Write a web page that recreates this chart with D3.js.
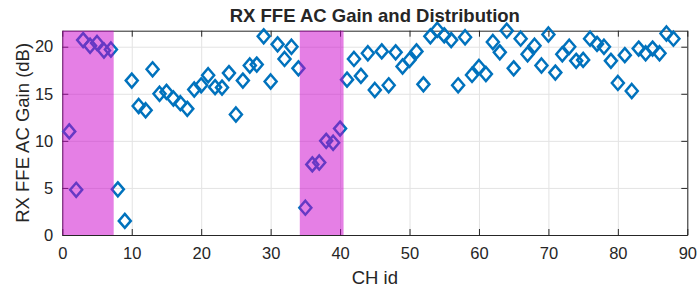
<!DOCTYPE html>
<html>
<head>
<meta charset="utf-8">
<script src="https://cdn.jsdelivr.net/npm/d3@7"></script>
<style>
  body { margin: 0; background: #fff; }
  text { font-family: "Liberation Sans", Arial, sans-serif; fill: #262626; }
</style>
</head>
<body>
<div id="chart"></div>
<script>
const chIds = [
  1, 2, 3, 4, 5, 6, 7, 8, 9, 10, 11, 12, 13, 14, 15, 16, 17, 18, 19, 20, 21, 22,
  23, 24, 25, 26, 27, 28, 29, 30, 31, 32, 33, 34, 35, 36, 37, 38, 39, 40, 41, 42,
  43, 44, 45, 46, 47, 48, 49, 50, 51, 52, 53, 54, 55, 56, 57, 58, 59, 60, 61, 62,
  63, 64, 65, 66, 67, 68, 69, 70, 71, 72, 73, 74, 75, 76, 77, 78, 79, 80, 81, 82,
  83, 84, 85, 86, 87, 88
];
const acGain = [
  11.0, 4.8, 20.7, 20.1, 20.4, 19.6, 19.7, 4.85, 1.5, 16.4, 13.7, 13.25, 17.6, 15.0,
  15.2, 14.5, 14.0, 13.4, 15.45, 15.9, 16.97, 15.7, 15.66, 17.2, 12.8, 16.4, 18.0, 18.1,
  21.1, 16.3, 20.25, 18.7, 20.0, 17.7, 2.9, 7.5, 7.7, 10.0, 9.8, 11.3, 16.5, 18.7,
  16.9, 19.3, 15.4, 19.5, 15.9, 19.4, 17.9, 18.6, 19.5, 16.0, 21.1, 21.8, 21.2, 20.7,
  15.9, 21.0, 17.0, 17.85, 17.1, 20.5, 19.4, 21.7, 17.7, 20.85, 19.2, 20.1, 18.0, 21.3,
  17.25, 19.2, 20.0, 18.5, 18.6, 20.85, 20.3, 20.0, 18.5, 16.15, 19.1, 15.3, 19.8, 19.3,
  19.8, 19.3, 21.4, 20.85
];
// highlighted CH ranges [start, end]
const bands = [[0, 7.4], [34.2, 40.5]];
const xTicks = [0, 10, 20, 30, 40, 50, 60, 70, 80, 90];
const yTicks = [0, 5, 10, 15, 20];

const width = 697, height = 291;
const margin = { top: 30.7, right: 9.7, bottom: 56, left: 62.3 };
const w = width - margin.left - margin.right;
const h = height - margin.top - margin.bottom;

const svg = d3.select("#chart").append("svg")
  .attr("width", width)
  .attr("height", height);

const g = svg.append("g")
  .attr("transform", `translate(${margin.left},${margin.top})`);

const x = d3.scaleLinear().domain([0, 90]).range([0, w]);
const y = d3.scaleLinear().domain([0, 21.7]).range([h, 0]);

// grid
g.append("g")
  .attr("class", "grid")
  .attr("transform", `translate(0,${h})`)
  .call(d3.axisBottom(x).tickValues(xTicks).tickSize(-h).tickFormat(""))
  .call(s => s.select(".domain").remove())
  .call(s => s.selectAll("line").attr("stroke", "#e3e3e3"));

g.append("g")
  .attr("class", "grid")
  .call(d3.axisLeft(y).tickValues(yTicks).tickSize(-w).tickFormat(""))
  .call(s => s.select(".domain").remove())
  .call(s => s.selectAll("line").attr("stroke", "#e3e3e3"));

// axes, ticks pointing inward
function styleAxis(s) {
  s.select(".domain").attr("stroke", "#262626");
  s.selectAll(".tick line").attr("stroke", "#262626");
  s.selectAll("text").attr("font-size", 16.5).attr("fill", "#262626")
    .attr("font-family", "'Liberation Sans', Arial, sans-serif");
}

g.append("g")
  .attr("transform", `translate(0,${h})`)
  .call(d3.axisBottom(x).tickValues(xTicks).tickSizeInner(-6).tickSizeOuter(0).tickPadding(12.5))
  .call(styleAxis);

g.append("g")
  .call(d3.axisTop(x).tickValues(xTicks).tickSizeInner(-6).tickSizeOuter(0).tickFormat(""))
  .call(styleAxis);

g.append("g")
  .call(d3.axisLeft(y).tickValues(yTicks).tickSizeInner(-6).tickSizeOuter(0).tickPadding(9))
  .call(styleAxis);

g.append("g")
  .attr("transform", `translate(${w},0)`)
  .call(d3.axisRight(y).tickValues(yTicks).tickSizeInner(-6).tickSizeOuter(0).tickFormat(""))
  .call(styleAxis);

// diamond markers
const diamond = "M0,-7L6,0L0,7L-6,0Z";
g.append("g")
  .selectAll("path")
  .data(chIds)
  .enter()
  .append("path")
  .attr("d", diamond)
  .attr("transform", (d, i) => `translate(${x(d)},${y(acGain[i])})`)
  .attr("fill", "none")
  .attr("stroke", "#0072bd")
  .attr("stroke-width", 2.5);

// highlight bands drawn over the markers
g.append("g")
  .selectAll("rect")
  .data(bands)
  .enter()
  .append("rect")
  .attr("x", d => x(d[0]))
  .attr("width", d => x(d[1]) - x(d[0]))
  .attr("y", 0)
  .attr("height", h)
  .attr("fill", "#cc00cc")
  .attr("fill-opacity", 0.5);

// title and labels
svg.append("text")
  .attr("x", margin.left + w / 2)
  .attr("y", 21.5)
  .attr("text-anchor", "middle")
  .attr("font-size", 18.5)
  .attr("font-weight", "bold")
  .attr("fill", "#000")
  .text("RX FFE AC Gain and Distribution");

svg.append("text")
  .attr("x", margin.left + w / 2)
  .attr("y", 284)
  .attr("text-anchor", "middle")
  .attr("font-size", 18.5)
  .text("CH id");

svg.append("text")
  .attr("transform", `translate(29.3,${margin.top + h / 2}) rotate(-90)`)
  .attr("text-anchor", "middle")
  .attr("font-size", 18.5)
  .text("RX FFE AC Gain (dB)");
</script>
</body>
</html>
